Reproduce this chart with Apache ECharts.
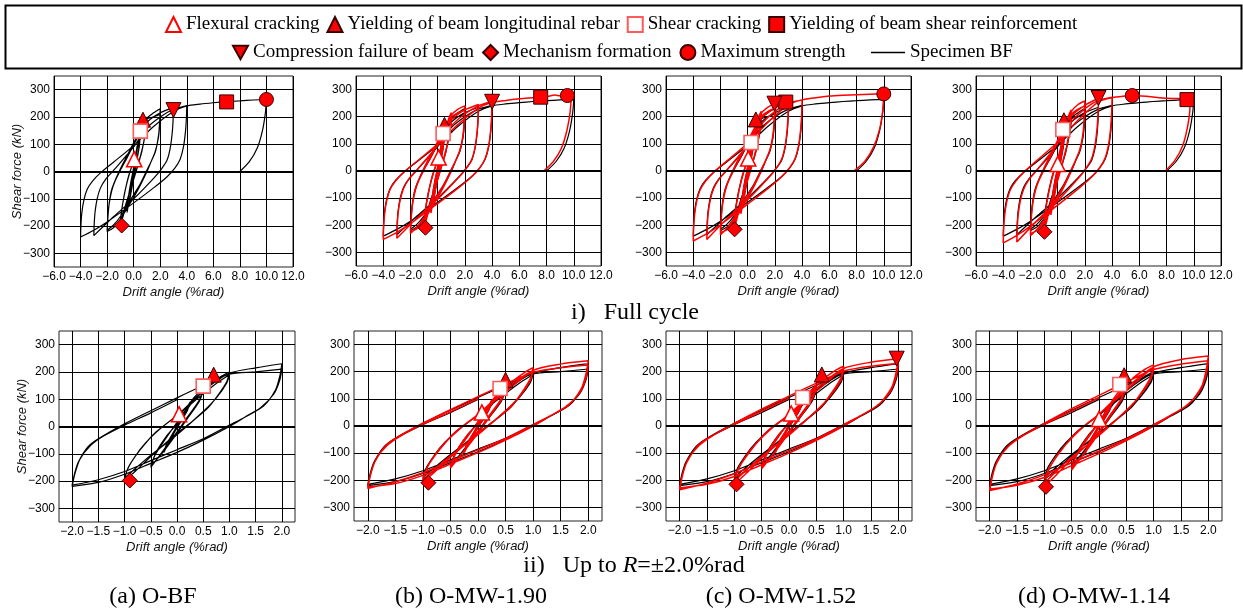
<!DOCTYPE html>
<html>
<head>
<meta charset="utf-8">
<script src="https://cdn.jsdelivr.net/npm/echarts@6/dist/echarts.min.js"></script>
<style>
  html, body { margin: 0; padding: 0; background: #fff; }
  #chart { width: 1243px; height: 613px; }
</style>
</head>
<body>
<div id="chart"></div>
<script>
// ---- data -------------------------------------------------------------
const panelLabels = ['(a) O-BF', '(b) O-MW-1.90', '(c) O-MW-1.52', '(d) O-MW-1.14'];

const topXTicks = [-6, -4, -2, 0, 2, 4, 6, 8, 10, 12];
const bottomXTicks = [-2, -1.5, -1, -0.5, 0, 0.5, 1, 1.5, 2];
const yTicks = [-300, -200, -100, 0, 100, 200, 300];

// Specimen BF (black), cycles up to R = +-2.0 %rad
const bfToR2 = [
  [0,0],[0.06,30],[0.125,55],[0.05,20],[-0.06,-25],[-0.125,-55],[-0.05,-20],[0,0],
  [0.12,45],[0.25,90],[0.2,60],[0.05,10],[-0.12,-45],[-0.25,-95],[-0.2,-65],[-0.05,-15],
  [0.1,40],[0.3,100],[0.5,140],[0.42,95],[0.2,35],[0,-20],[-0.25,-85],[-0.5,-150],[-0.42,-105],[-0.2,-40],[0,15],
  [0.25,80],[0.5,130],[0.42,90],[0.2,30],[0,-25],[-0.25,-90],[-0.5,-145],[-0.4,-95],[-0.2,-35],[0,10],
  [0.3,90],[0.6,150],[0.85,185],[1.0,200],[0.95,165],[0.8,120],[0.6,70],[0.3,20],[0,-25],[-0.5,-110],[-0.8,-165],[-1.0,-197],[-0.95,-160],[-0.8,-110],[-0.6,-60],[-0.3,-5],[0,40],
  [0.5,120],[0.8,165],[1.0,190],[0.95,160],[0.75,105],[0.5,55],[0,-30],[-0.5,-105],[-0.8,-155],[-1.0,-190],[-0.93,-150],[-0.7,-85],[-0.4,-20],[0,40],
  [0.5,130],[1.0,195],[1.5,215],[2.0,230],[1.96,185],[1.88,135],[1.65,75],[1.3,35],[1.0,5],[0.5,-45],[0,-85],[-0.5,-125],[-1.0,-165],[-1.5,-195],[-2.0,-215],[-1.95,-170],[-1.88,-130],[-1.7,-75],[-1.5,-45],[-1.0,10],[-0.5,58],[0,105],[0.5,150],[1.0,192],
  [1.5,200],[2.0,210],[1.96,170],[1.85,120],[1.6,70],[1.3,35],[1.0,0],[0.5,-50],[0,-95],[-0.5,-135],[-1.0,-175],[-1.5,-205],[-2.0,-220],[-1.95,-175],[-1.85,-120],[-1.65,-70],[-1.4,-35],[-1.0,5],[-0.5,50],[0,98]
];
// Specimen BF, larger cycles and final push
const bfLarge = [
  [0.5,140],[1.0,180],[2.0,215],[3.0,235],[2.97,190],[2.9,140],[2.75,85],[2.5,40],[2.1,10],[1.5,-25],[0,-100],[-1.5,-165],[-3.0,-235],[-2.97,-190],[-2.9,-145],[-2.75,-100],[-2.5,-60],[-2.1,-28],[-1.5,5],[0,90],
  [1.0,160],[2.0,200],[3.0,228],[4.0,242],[3.97,195],[3.9,145],[3.75,90],[3.5,45],[3.1,12],[2.5,-20],[1.5,-60],[0,-115],[-2.0,-185],[-3.0,-215],[-4.0,-240],[-3.97,-195],[-3.9,-150],[-3.75,-105],[-3.5,-65],[-3.1,-35],[-2.5,-5],[-1.5,35],[0,95],[1.5,165],[3.0,220],[4.0,240],
  [5.0,247],[6.0,252],[7.0,256],[8.0,259],[9.0,262],[10.0,264],[9.92,215],[9.7,150],[9.3,85],[8.7,35],[8.0,0]
];

const mw190ToR2 = [
  [0,0],[0.06,32],[0.125,58],[0.05,22],[-0.06,-28],[-0.125,-58],[-0.05,-20],[0,0],
  [0.12,48],[0.25,95],[0.2,62],[0.05,12],[-0.12,-48],[-0.25,-98],[-0.2,-66],[-0.05,-15],
  [0.1,42],[0.3,105],[0.5,150],[0.42,100],[0.2,38],[0,-20],[-0.25,-90],[-0.5,-155],[-0.42,-108],[-0.2,-42],[0,15],
  [0.25,85],[0.5,140],[0.42,95],[0.2,32],[0,-25],[-0.25,-92],[-0.5,-150],[-0.4,-98],[-0.2,-36],[0,10],
  [0.3,95],[0.6,160],[0.85,198],[1.0,215],[0.95,175],[0.8,125],[0.6,72],[0.3,20],[0,-28],[-0.5,-115],[-0.8,-172],[-1.0,-205],[-0.95,-165],[-0.8,-112],[-0.6,-62],[-0.3,-5],[0,42],
  [0.5,125],[0.8,175],[1.0,205],[0.95,168],[0.75,108],[0.5,56],[0,-32],[-0.5,-110],[-0.8,-162],[-1.0,-200],[-0.93,-155],[-0.7,-88],[-0.4,-20],[0,42],
  [0.5,135],[1.0,205],[1.5,228],[2.0,240],[1.96,192],[1.88,140],[1.65,78],[1.3,36],[1.0,5],[0.5,-46],[0,-88],[-0.5,-130],[-1.0,-172],[-1.5,-205],[-2.0,-230],[-1.95,-180],[-1.88,-135],[-1.7,-78],[-1.5,-46],[-1.0,10],[-0.5,60],[0,108],[0.5,155],[1.0,198],
  [1.5,215],[2.0,225],[1.96,178],[1.85,124],[1.6,72],[1.3,36],[1.0,0],[0.5,-52],[0,-98],[-0.5,-140],[-1.0,-182],[-1.5,-212],[-2.0,-225],[-1.95,-178],[-1.85,-122],[-1.65,-72],[-1.4,-36],[-1.0,6],[-0.5,52],[0,100]
];
const mw190Large = [
  [0.5,145],[1.0,188],[2.0,225],[3.0,245],[2.97,198],[2.9,146],[2.75,88],[2.5,42],[2.1,10],[1.5,-26],[0,-104],[-1.5,-172],[-3.0,-248],[-2.97,-200],[-2.9,-152],[-2.75,-105],[-2.5,-63],[-2.1,-29],[-1.5,5],[0,94],
  [1.0,166],[2.0,210],[3.0,240],[4.0,256],[3.97,205],[3.9,152],[3.75,94],[3.5,47],[3.1,12],[2.5,-21],[1.5,-63],[0,-120],[-2.0,-194],[-3.0,-226],[-4.0,-252],[-3.97,-205],[-3.9,-158],[-3.75,-110],[-3.5,-68],[-3.1,-37],[-2.5,-5],[-1.5,37],[0,99],[1.5,172],[3.0,232],[4.0,252],
  [5.0,260],[6.0,266],[7.0,270],[8.0,274],[8.6,280],[9.0,277],[9.5,278],[9.8,276],[9.74,220],[9.5,150],[9.1,85],[8.5,35],[7.8,0]
];

const mw152ToR2 = [
  [0,0],[0.06,30],[0.125,56],[0.05,20],[-0.06,-27],[-0.125,-57],[-0.05,-20],[0,0],
  [0.12,47],[0.25,94],[0.2,62],[0.05,12],[-0.12,-47],[-0.25,-98],[-0.2,-66],[-0.05,-15],
  [0.1,44],[0.3,108],[0.5,152],[0.42,102],[0.2,38],[0,-22],[-0.25,-92],[-0.5,-158],[-0.42,-110],[-0.2,-42],[0,15],
  [0.25,86],[0.5,142],[0.42,96],[0.2,32],[0,-25],[-0.25,-94],[-0.5,-152],[-0.4,-100],[-0.2,-36],[0,10],
  [0.3,98],[0.6,168],[0.85,205],[1.0,220],[0.95,178],[0.8,128],[0.6,74],[0.3,20],[0,-30],[-0.5,-118],[-0.8,-178],[-1.0,-215],[-0.95,-170],[-0.8,-115],[-0.6,-64],[-0.3,-5],[0,42],
  [0.5,128],[0.8,180],[1.0,210],[0.95,170],[0.75,110],[0.5,56],[0,-34],[-0.5,-112],[-0.8,-166],[-1.0,-205],[-0.93,-158],[-0.7,-90],[-0.4,-20],[0,42],
  [0.5,138],[1.0,212],[1.5,235],[2.0,248],[1.96,198],[1.88,142],[1.65,80],[1.3,37],[1.0,5],[0.5,-47],[0,-90],[-0.5,-132],[-1.0,-176],[-1.5,-210],[-2.0,-235],[-1.95,-184],[-1.88,-138],[-1.7,-80],[-1.5,-47],[-1.0,10],[-0.5,62],[0,110],[0.5,158],[1.0,202],
  [1.5,220],[2.0,230],[1.96,182],[1.85,126],[1.6,73],[1.3,36],[1.0,0],[0.5,-53],[0,-100],[-0.5,-143],[-1.0,-186],[-1.5,-215],[-2.0,-228],[-1.95,-180],[-1.85,-124],[-1.65,-73],[-1.4,-36],[-1.0,6],[-0.5,54],[0,102]
];
const mw152Large = [
  [0.5,150],[1.0,195],[2.0,232],[3.0,255],[2.97,205],[2.9,152],[2.75,92],[2.5,44],[2.1,10],[1.5,-27],[0,-106],[-1.5,-175],[-3.0,-252],[-2.97,-203],[-2.9,-154],[-2.75,-107],[-2.5,-64],[-2.1,-30],[-1.5,5],[0,96],
  [1.0,172],[2.0,220],[3.0,250],[4.0,262],[3.97,210],[3.9,156],[3.75,97],[3.5,48],[3.1,13],[2.5,-21],[1.5,-64],[0,-122],[-2.0,-198],[-3.0,-231],[-4.0,-258],[-3.97,-210],[-3.9,-161],[-3.75,-112],[-3.5,-70],[-3.1,-38],[-2.5,-5],[-1.5,38],[0,102],[1.5,180],[3.0,245],[4.0,262],
  [5.0,270],[6.0,276],[7.0,279],[8.0,281],[9.0,283],[10.0,284],[9.93,225],[9.7,155],[9.25,88],[8.6,35],[7.8,0]
];

const mw114ToR2 = [
  [0,0],[0.06,30],[0.125,56],[0.05,20],[-0.06,-28],[-0.125,-58],[-0.05,-20],[0,0],
  [0.12,48],[0.25,96],[0.2,64],[0.05,12],[-0.12,-48],[-0.25,-100],[-0.2,-68],[-0.05,-15],
  [0.1,45],[0.3,110],[0.5,158],[0.42,105],[0.2,40],[0,-22],[-0.25,-94],[-0.5,-162],[-0.42,-112],[-0.2,-44],[0,15],
  [0.25,88],[0.5,148],[0.42,100],[0.2,34],[0,-26],[-0.25,-96],[-0.5,-156],[-0.4,-102],[-0.2,-38],[0,10],
  [0.3,100],[0.6,172],[0.85,210],[1.0,225],[0.95,182],[0.8,130],[0.6,76],[0.3,21],[0,-31],[-0.5,-122],[-0.8,-184],[-1.0,-222],[-0.95,-175],[-0.8,-118],[-0.6,-66],[-0.3,-5],[0,43],
  [0.5,130],[0.8,184],[1.0,215],[0.95,174],[0.75,112],[0.5,58],[0,-35],[-0.5,-115],[-0.8,-170],[-1.0,-212],[-0.93,-162],[-0.7,-92],[-0.4,-21],[0,43],
  [0.5,140],[1.0,218],[1.5,245],[2.0,258],[1.96,205],[1.88,146],[1.65,82],[1.3,38],[1.0,5],[0.5,-48],[0,-92],[-0.5,-135],[-1.0,-180],[-1.5,-214],[-2.0,-238],[-1.95,-186],[-1.88,-140],[-1.7,-82],[-1.5,-48],[-1.0,10],[-0.5,64],[0,113],[0.5,162],[1.0,208],
  [1.5,228],[2.0,240],[1.96,188],[1.85,130],[1.6,75],[1.3,37],[1.0,0],[0.5,-54],[0,-102],[-0.5,-146],[-1.0,-190],[-1.5,-218],[-2.0,-232],[-1.95,-183],[-1.85,-126],[-1.65,-74],[-1.4,-37],[-1.0,6],[-0.5,55],[0,104]
];
const mw114Large = [
  [0.5,155],[1.0,202],[2.0,242],[3.0,268],[2.97,215],[2.9,160],[2.75,97],[2.5,46],[2.1,11],[1.5,-28],[0,-110],[-1.5,-182],[-3.0,-262],[-2.97,-211],[-2.9,-160],[-2.75,-111],[-2.5,-67],[-2.1,-31],[-1.5,5],[0,100],
  [1.0,180],[2.0,230],[3.0,260],[4.0,272],[3.97,218],[3.9,162],[3.75,100],[3.5,50],[3.1,13],[2.5,-22],[1.5,-66],[0,-126],[-2.0,-203],[-3.0,-237],[-4.0,-265],[-3.97,-215],[-3.9,-165],[-3.75,-115],[-3.5,-72],[-3.1,-39],[-2.5,-5],[-1.5,40],[0,106],[1.5,188],[3.0,255],[4.0,270],
  [5.0,276],[5.5,278],[6.5,275],[7.5,270],[8.5,267],[9.5,265],[9.72,235],[9.55,165],[9.2,95],[8.6,38],[7.9,0]
];

// events, one point per specimen (a, b, c, d)
const flexuralCracking = [[0.04,45],[0.07,50],[0.04,46],[0.0,26]];
const yieldLongRebar   = [[0.7,190],[0.5,170],[0.6,190],[0.46,187]];
const shearCracking    = [[0.5,148],[0.4,138],[0.25,105],[0.38,153]];
const yieldShearReinf  = [[7.0,255],[7.57,272],[2.8,254],[9.5,263]];
const compressionFail  = [[3.0,225],[4.0,255],[1.97,248],[3.0,269]];
const mechanism        = [[-0.9,-198],[-0.9,-209],[-0.96,-215],[-0.97,-224]];
const maxStrength      = [[10.0,264],[9.53,278],[10.0,284],[5.48,278]];

// ---- styles -----------------------------------------------------------
const RED = '#ff0000';
const EDGE = '#3a0000';
const DOWN_TRIANGLE = 'path://M0,0L2,0L1,1.8Z';
const events = [
  { name: 'Flexural cracking', data: flexuralCracking, symbol: 'triangle', size: 15, fill: '#fff', stroke: RED, bw: 1.6 },
  { name: 'Yielding of beam longitudinal rebar', data: yieldLongRebar, symbol: 'triangle', size: 15, fill: RED, stroke: EDGE, bw: 1 },
  { name: 'Shear cracking', data: shearCracking, symbol: 'rect', size: 14, fill: '#fff', stroke: '#ff5a5a', bw: 1.6 },
  { name: 'Yielding of beam shear reinforcement', data: yieldShearReinf, symbol: 'rect', size: 14, fill: RED, stroke: EDGE, bw: 1 },
  { name: 'Compression failure of beam', data: compressionFail, symbol: DOWN_TRIANGLE, size: 15, fill: RED, stroke: EDGE, bw: 1 },
  { name: 'Mechanism formation', data: mechanism, symbol: 'diamond', size: 15, fill: RED, stroke: EDGE, bw: 1 },
  { name: 'Maximum strength', data: maxStrength, symbol: 'circle', size: 14, fill: RED, stroke: EDGE, bw: 1 }
];

const redToR2 = [null, mw190ToR2, mw152ToR2, mw114ToR2];
const redLarge = [null, mw190Large, mw152Large, mw114Large];

const topGrids = [
  { left: 54, top: 76, width: 239, height: 191 },
  { left: 356, top: 76, width: 245, height: 190 },
  { left: 666, top: 76, width: 245, height: 190 },
  { left: 976, top: 76, width: 245, height: 190 }
];
const bottomGrids = [
  { left: 59, top: 331, width: 236, height: 191 },
  { left: 354, top: 331, width: 248, height: 190 },
  { left: 666, top: 331, width: 246, height: 190 },
  { left: 976, top: 331, width: 246, height: 190 }
];

const AXIS_FONT = 'Liberation Sans';
const SERIF = 'Liberation Serif';

function num(v, d) {
  const s = Math.abs(v).toFixed(d);
  return v < 0 ? '\u2212' + s : s;
}

const grid = [], xAxis = [], yAxis = [], series = [];

for (let row = 0; row < 2; row++) {
  for (let p = 0; p < 4; p++) {
    const g = row * 4 + p;
    const box = row === 0 ? topGrids[p] : bottomGrids[p];
    grid.push(Object.assign({ show: true, borderColor: '#222', borderWidth: 1 }, box));

    const ticks = row === 0 ? topXTicks : bottomXTicks;
    xAxis.push({
      type: 'value', gridIndex: g,
      min: row === 0 ? -6 : -2.25,
      max: row === 0 ? 12 : 2.25,
      interval: row === 0 ? 2 : 0.25,
      axisLine: { show: false }, axisTick: { show: false },
      splitLine: { show: true, lineStyle: { width: 1, color: row === 0 ? '#000' : ['rgba(0,0,0,0)', '#000'] } },
      axisLabel: {
        margin: 4, fontFamily: AXIS_FONT, fontSize: 12, color: '#000',
        formatter: v => ticks.some(t => Math.abs(t - v) < 1e-9) ? num(v, 1) : ''
      },
      name: 'Drift angle (%rad)', nameLocation: 'middle', nameGap: 19,
      nameTextStyle: { fontFamily: AXIS_FONT, fontStyle: 'italic', fontSize: 13, color: '#111' }
    });
    yAxis.push({
      type: 'value', gridIndex: g, min: -350, max: 350, interval: 50,
      axisLine: { show: false }, axisTick: { show: false },
      splitLine: { show: true, lineStyle: { width: 1, color: ['rgba(0,0,0,0)', '#000'] } },
      axisLabel: {
        margin: 4, fontFamily: AXIS_FONT, fontSize: 12, color: '#000',
        formatter: v => yTicks.indexOf(v) >= 0 ? num(v, 0) : ''
      },
      name: p === 0 ? 'Shear force (kN)' : '', nameLocation: 'middle', nameGap: 30, nameMoveOverlap: false,
      nameTextStyle: { fontFamily: AXIS_FONT, fontStyle: 'italic', fontSize: 13, color: '#111' }
    });

    // specimen BF (black)
    series.push({
      type: 'line', name: 'Specimen BF', xAxisIndex: g, yAxisIndex: g,
      data: row === 0 ? bfToR2.concat(bfLarge) : bfToR2,
      symbol: 'none', smooth: 0.25, lineStyle: { color: '#000', width: 1.2 }, itemStyle: { color: '#000' },
      animation: false, z: 2,
      markLine: {
        silent: true, symbol: 'none', label: { show: false }, animation: false,
        lineStyle: { color: '#000', width: 2, type: 'solid' },
        data: [{ yAxis: 0 }]
      }
    });
    // compared specimen (red)
    if (p > 0) {
      series.push({
        type: 'line', name: panelLabels[p], xAxisIndex: g, yAxisIndex: g,
        data: row === 0 ? redToR2[p].concat(redLarge[p]) : redToR2[p],
        symbol: 'none', smooth: 0.25, lineStyle: { color: RED, width: 1.5 }, itemStyle: { color: RED },
        animation: false, z: 3
      });
    }
    // event markers
    events.forEach(ev => {
      const pt = ev.data[p];
      if (row === 1 && Math.abs(pt[0]) > 2.25) return;
      series.push({
        type: 'scatter', name: ev.name, xAxisIndex: g, yAxisIndex: g,
        data: [pt], symbol: ev.symbol, symbolSize: ev.size,
        itemStyle: { color: ev.fill, borderColor: ev.stroke, borderWidth: ev.bw, opacity: 1 },
        animation: false, z: 5
      });
    });
  }
}

const legendText = { fontFamily: SERIF, fontSize: 19, color: '#000' };

const option = {
  backgroundColor: '#fff',
  animation: false,
  legend: [
    {
      top: 10, left: 160, itemWidth: 15, itemHeight: 15, itemGap: 7,
      textStyle: legendText, selectedMode: false,
      data: events.slice(0, 4).map(e => e.name)
    },
    {
      top: 38, left: 227, itemWidth: 15, itemHeight: 15, itemGap: 8,
      textStyle: legendText, selectedMode: false,
      data: events.slice(4).map(e => ({ name: e.name, icon: e.symbol }))
    },
    {
      top: 38, left: 866, itemWidth: 34, itemHeight: 1.5, itemGap: 7,
      textStyle: legendText, selectedMode: false,
      data: [{ name: 'Specimen BF', icon: 'rect' }]
    }
  ],
  grid, xAxis, yAxis, series,
  graphic: [
    { type: 'rect', left: 3, top: 3, silent: true, z: -1,
      shape: { width: 1236, height: 63 }, style: { fill: 'none', stroke: '#000', lineWidth: 2 } },
    { type: 'text', x: 635, y: 313,
      style: { text: 'i)   Full cycle', font: '24px "Liberation Serif"', fill: '#000',
        align: 'center', verticalAlign: 'middle', textAlign: 'center', textVerticalAlign: 'middle' } },
    { type: 'text', x: 634, y: 566,
      style: { text: '{n|ii)   Up to }{i|R}{n|=±2.0%rad}', fill: '#000',
        align: 'center', verticalAlign: 'middle', textAlign: 'center', textVerticalAlign: 'middle',
        rich: { n: { fontFamily: SERIF, fontSize: 24 }, i: { fontFamily: SERIF, fontSize: 24, fontStyle: 'italic' } } } }
  ].concat(panelLabels.map((t, i) => ({
    type: 'text', x: [153, 471, 781, 1094][i], y: 597,
    style: { text: t, font: '24px "Liberation Serif"', fill: '#000', align: 'center', verticalAlign: 'middle', textAlign: 'center', textVerticalAlign: 'middle' }
  })))
};

const chart = echarts.init(document.getElementById('chart'), null, { renderer: 'canvas' });
chart.setOption(option);
</script>
</body>
</html>
